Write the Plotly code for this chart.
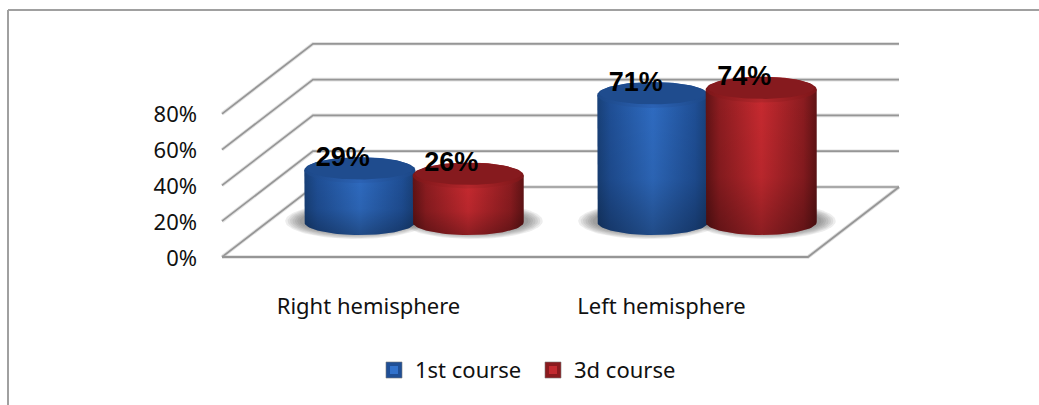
import numpy as np
import plotly.graph_objects as go

categories = ["Right hemisphere", "Left hemisphere"]
series_names = ["1st course", "3d course"]
course_1 = [29, 71]
course_3 = [26, 74]
y_ticks = [0, 20, 40, 60, 80]
y_labels = ["0%", "20%", "40%", "60%", "80%"]

W, H = 1039, 405
PX_X0, PX_CAT = 222.0, 293.0      # pixel of category 0 and px per category
PX_Y0, PX_PCT = 257.0, 1.79       # pixel of value 0 and px per percent
DEPTH_X, DEPTH_Y = 91.0, 70.0     # oblique depth in pixels

xr = [(0 - PX_X0) / PX_CAT, (W - PX_X0) / PX_CAT]
yr = [(PX_Y0 - H) / PX_PCT, PX_Y0 / PX_PCT]


def ux(px):
    return px / PX_CAT


def uy(px):
    return px / PX_PCT


def proj(x, v, d=0.0):
    return x + d * ux(DEPTH_X), v + d * uy(DEPTH_Y)


fig = go.Figure()


def line(xs, ys, color, width):
    fig.add_trace(go.Scatter(x=xs, y=ys, mode="lines", hoverinfo="skip", showlegend=False,
                             line=dict(color=color, width=width, shape="linear")))


def grid_path(v):
    a = proj(0, v, 0)
    b = proj(0, v, 1)
    c = proj(2, v, 1)
    return [a[0], b[0], c[0]], [a[1], b[1], c[1]]


for v in y_ticks:
    xs, ys = grid_path(v)
    line(xs, ys, "rgba(170,170,170,0.35)", 3.6)
    line(xs, ys, "#969696", 1.7)

fl = [proj(0, 0, 0), proj(2, 0, 0), proj(2, 0, 1)]
line([p[0] for p in fl], [p[1] for p in fl], "rgba(170,170,170,0.4)", 3.6)
line([p[0] for p in fl], [p[1] for p in fl], "#969696", 1.8)

RX = 55.5
RY = 13.0
t = np.linspace(0, 2 * np.pi, 90)
OFFS = [-0.185, 0.185]


def ellipse(cx, cy, rx_px, ry_px):
    return cx + ux(rx_px) * np.cos(t), cy + uy(ry_px) * np.sin(t)


def fill(xs, ys, color=None, grad=None):
    kw = dict(fillcolor=color) if color else dict(fillgradient=grad)
    fig.add_trace(go.Scatter(x=xs, y=ys, mode="lines", fill="toself", hoverinfo="skip",
                             showlegend=False, line=dict(width=0), **kw))


PAL = [
    dict(edge="#184078", near="#1f4f96", mid="#2f6cc2", cap="#1f4c8e", capedge="#1c4786", rim="#2b62b4"),
    dict(edge="#601315", near="#8c1c20", mid="#c82a30", cap="#861a1e", capedge="#7c1619", rim="#b3262b"),
]

# shadows on the floor
for gi in range(2):
    for si, vals in enumerate([course_1, course_3]):
        cx, cy = proj(gi + 0.5 + OFFS[si], 0, 0.5)
        for k in range(7):
            ex, ey = ellipse(cx + ux(4 if si else -4), cy + uy(1), RX + 15 - 2.4 * k, RY + 5 - 0.9 * k)
            fill(ex, ey, color="rgba(60,60,60,0.095)")

# cylinders, drawn from the values
for gi in range(2):
    for si, vals in enumerate([course_1, course_3]):
        p = PAL[si]
        cx, base = proj(gi + 0.5 + OFFS[si], 0, 0.5)
        top = base + vals[gi]
        tb = np.linspace(0, np.pi, 50)
        bx = cx + ux(RX) * np.cos(tb)[::-1]
        by = base - uy(RY) * np.sin(tb)
        xs = np.concatenate([[cx - ux(RX)], bx, [cx + ux(RX)]])
        ys = np.concatenate([[top], by, [top]])
        fill(xs, ys, grad=dict(type="horizontal", colorscale=[
            [0, p["edge"]], [0.12, p["near"]], [0.5, p["mid"]], [0.88, p["near"]], [1, p["edge"]]]))
        fill(xs, ys, grad=dict(type="vertical", colorscale=[
            [0, "rgba(0,0,0,0.30)"], [0.4, "rgba(0,0,0,0.08)"], [1, "rgba(0,0,0,0)"]]))
        ex, ey = ellipse(cx, top, RX, RY)
        fill(ex, ey, grad=dict(type="horizontal", colorscale=[
            [0, p["capedge"]], [0.5, p["rim"]], [1, p["capedge"]]]))
        ex, ey = ellipse(cx, top + uy(1.6), RX - 2.5, RY - 2)
        fill(ex, ey, color=p["cap"])

# data labels
for gi in range(2):
    for si, vals in enumerate([course_1, course_3]):
        cx, base = proj(gi + 0.5 + OFFS[si], 0, 0.5)
        fig.add_trace(go.Scatter(
            x=[cx - ux(17)], y=[base + vals[gi] + uy(11)], mode="text",
            text=[f"{vals[gi]}%"], textposition="middle center", hoverinfo="skip", showlegend=False,
            textfont=dict(family="Liberation Sans", size=27, color="black", weight="bold")))

FONT = dict(family="Noto Sans", size=22, color="#111111")

# value axis labels
fig.add_trace(go.Scatter(x=[ux(-25)] * len(y_ticks), y=[v - uy(3) for v in y_ticks], mode="text", text=y_labels,
                         textposition="middle left", textfont=FONT, hoverinfo="skip", showlegend=False))
# category labels
fig.add_trace(go.Scatter(x=[0.5, 1.5], y=[uy(-51)] * 2, mode="text", text=categories,
                         textposition="middle center", textfont=FONT, hoverinfo="skip", showlegend=False))

# legend
leg_y = uy(PX_Y0 - 370)
for i, (name, colr, hi) in enumerate(zip(series_names, ["#1f4f96", "#8a1a1e"], ["#3272cc", "#c22a30"])):
    lx = ux([394 - PX_X0, 553 - PX_X0][i])
    fig.add_trace(go.Scatter(x=[lx], y=[leg_y], mode="markers", hoverinfo="skip", showlegend=False,
                             marker=dict(symbol="square", size=16, color=colr,
                                         line=dict(color="rgba(120,120,120,0.6)", width=1))))
    fig.add_trace(go.Scatter(x=[lx], y=[leg_y], mode="markers", hoverinfo="skip", showlegend=False,
                             marker=dict(symbol="square", size=8, color=hi)))
    fig.add_trace(go.Scatter(x=[lx + ux(21)], y=[leg_y - uy(2)], mode="text", text=[name],
                             textposition="middle right", textfont=FONT, hoverinfo="skip", showlegend=False))

border = dict(type="line", xref="paper", yref="paper", line=dict(color="#a0a0a0", width=2), layer="below")
fig.update_layout(
    width=W, height=H, autosize=False, margin=dict(l=0, r=0, t=0, b=0),
    paper_bgcolor="white", plot_bgcolor="white", showlegend=False,
    xaxis=dict(range=xr, visible=False, fixedrange=True),
    yaxis=dict(range=yr, visible=False, fixedrange=True),
    shapes=[
        dict(border, x0=8 / W, x1=1, y0=1 - 10 / H, y1=1 - 10 / H),
        dict(border, x0=8 / W, x1=8 / W, y0=0, y1=1 - 10 / H),
    ],
)
fig.write_html("out.html", post_script="document.body.style.margin='0';", config=dict(displayModeBar=False))
